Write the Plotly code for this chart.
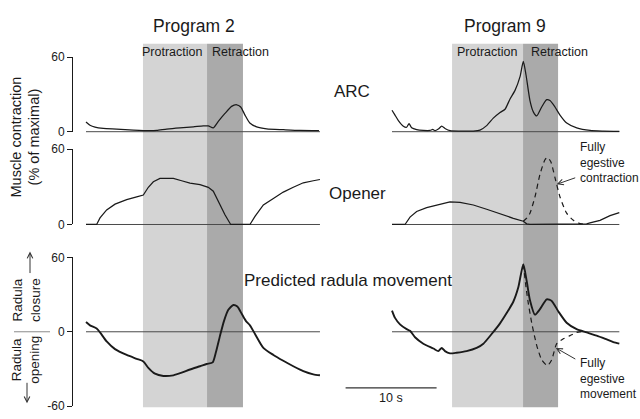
import plotly.graph_objects as go

# ---------------- data (time in s, contraction / movement in % of maximal) ----------------
# Program 2
p2_arc_t = [0, 0.44, 0.99, 1.9, 3.37, 5.2, 7.03, 7.77, 8.87, 10.33, 11.8, 12.89, 13.44, 13.99,
            14.54, 15.27, 16.0, 16.56, 17.0, 17.47, 18.0, 18.75, 19.85, 21.7, 23.5, 25.6]
p2_arc = [7.8, 5.2, 3.6, 2.6, 2.1, 1.3, 0.8, 1.0, 2.1, 3.1, 3.9, 4.7, 4.7, 3.1,
          8.3, 14.7, 20.4, 21.7, 19.9, 13.4, 7.0, 3.9, 2.3, 1.6, 1.0, 0.8]

p2_opener_t = [0, 1.17, 1.54, 2.27, 3.19, 4.47, 5.57, 6.3, 6.85, 7.4, 8.13, 9.6, 10.51, 11.43,
               12.53, 13.44, 13.99, 14.54, 15.27, 15.9, 18.02, 18.57, 19.49, 20.59, 21.68,
               22.78, 23.88, 24.98, 25.71]
p2_opener = [0, 0, 5.2, 11.6, 16.2, 19.8, 21.9, 23.4, 29.6, 34.0, 36.6, 36.6, 34.8, 33.0,
             31.7, 29.6, 26.5, 18.0, 7.7, 0, 0, 6.4, 15.5, 20.6, 25.8,
             29.6, 33.2, 34.8, 35.8]

p2_radula_t = [0, 0.44, 1.17, 1.54, 2.27, 3.19, 4.47, 5.57, 6.3, 6.85, 7.58, 8.5, 9.6, 10.51,
               11.43, 12.53, 13.26, 13.92, 14.29, 14.73, 15.16, 15.64, 16.19, 16.63, 17.11,
               17.58, 18.02, 18.57, 19.49, 20.59, 21.68, 22.78, 23.88, 24.98, 25.71]
p2_radula = [7.8, 5.2, 2.6, -0.5, -7.8, -14.0, -18.7, -21.8, -23.9, -29.1, -33.8, -35.6, -35.1, -33.0,
             -30.4, -27.8, -26.0, -24.7, -16.1, -3.1, 8.6, 17.7, 21.6, 20.3, 14.5,
             8.6, 5.2, -1.8, -13.0, -18.7, -23.4, -27.8, -31.7, -34.3, -35.1]

p2_protraction = [6.26, 13.3]
p2_retraction = [13.3, 17.25]
p2_end = 25.71

# Program 9
p9_arc_t = [0, 0.33, 0.70, 1.25, 1.61, 1.87, 2.16, 2.71, 3.44, 4.18, 4.47, 4.73, 5.09, 5.46,
            5.82, 6.37, 7.47, 8.94, 9.67, 10.4, 11.13, 11.87, 12.42, 12.97, 13.52, 14.07, 14.43,
            14.73, 15.16, 15.53, 15.9, 16.45, 17.0, 17.36, 17.91, 18.46, 19.2, 20.3, 21.76,
            23.22, 24.98]
p9_arc = [17.3, 13.4, 9.0, 4.4, 3.6, 6.5, 3.1, 1.6, 1.0, 1.0, 1.8, 0.8, 2.1, 4.4,
          2.6, 0.8, 0.5, 0.5, 1.3, 4.9, 10.9, 15.5, 18.1, 26.4, 33.3, 44.4, 56.6,
          45.7, 25.1, 16.0, 12.7, 19.9, 25.8, 25.1, 19.9, 13.4, 7.0, 3.1, 1.0,
          0.5, 0.3]

p9_opener_t = [0, 1.43, 1.98, 2.71, 3.81, 5.27, 6.37, 7.47, 8.94, 10.4, 11.87, 13.33, 14.43,
               14.8, 15.16, 20.66, 21.39, 21.76, 22.86, 23.96, 24.98]
p9_opener = [0, 0, 5.9, 10.3, 13.4, 16.2, 18.0, 17.5, 15.5, 12.1, 8.2, 4.9, 2.6,
             0.5, 0, 0, 0.5, 1.3, 3.3, 7.0, 9.5]
p9_opener_egest_t = [14.43, 14.8, 15.16, 15.71, 16.26, 16.81, 17.07, 17.44, 17.91, 18.46,
                     19.19, 19.93, 20.66, 21.39]
p9_opener_egest = [2.6, 5.0, 9.0, 21.9, 39.9, 51.5, 53.3, 50.2, 37.3, 21.9,
                   9.0, 3.3, 0.8, 0.5]

p9_radula_t = [0, 0.33, 0.88, 1.61, 1.98, 2.53, 3.44, 4.55, 5.09, 5.46, 5.82, 6.37, 7.1, 8.2,
               9.3, 10.04, 10.95, 11.87, 12.6, 13.33, 13.88, 14.43, 14.8, 15.16, 15.71, 16.26,
               17.0, 17.55, 18.28, 19.19, 20.29, 21.39, 22.49, 23.59, 24.32, 24.98]
p9_radula = [17.1, 11.2, 6.0, 2.1, 0.8, -4.4, -9.6, -13.5, -15.6, -13.0, -15.6, -17.4, -16.9, -15.6,
             -13.0, -9.6, -1.8, 6.8, 15.1, 24.2, 35.8, 54.5, 41.0, 25.5, 13.8, 18.2,
             26.2, 24.9, 16.4, 7.3, 2.1, -0.5, -3.1, -6.2, -8.3, -9.6]
p9_radula_egest_t = [14.43, 14.73, 14.98, 15.35, 15.9, 16.45, 17.07, 17.55, 18.1, 18.83,
                     19.56, 20.29, 21.03]
p9_radula_egest = [54.5, 35.8, 22.9, 7.3, -10.9, -22.6, -27.3, -22.6, -9.6, -5.7,
                   -3.1, -0.5, 0.3]

p9_protraction = [6.6, 14.4]
p9_retraction = [14.4, 18.25]
p9_end = 24.98

scale_bar_start = -5.1
scale_bar_len = 10

muscle_ticks = [0, 60]
radula_ticks = [-60, 0, 60]
radula_ticktext = ["-60", "0", "60"]

# ---------------- layout geometry (pixels) ----------------
W, H = 640, 419
PX_PER_S = 9.1
LEFT_T0_PX, RIGHT_T0_PX = 86, 392
AXIS_PX = 73
FONT = "Liberation Sans, Arial, sans-serif"
INK = "#1a1a1a"


def px_x(p):
    return p / W


def px_y(p):
    return 1 - p / H


def row_domain(p_zero, p_sixty, lo, hi):
    k = (p_zero - p_sixty) / 60.0
    return [px_y(p_zero - lo * k), px_y(p_zero - hi * k)]


# rows: (pixel of 0, pixel of 60)
ROWS = {"arc": (129, 52), "opener": (225, 147), "radula": (336, 259)}
DATA_RANGES = {"arc": [-5, 62], "opener": [-5, 62], "radula": [-62, 62]}
TICK_RANGES = {"arc": [0, 60], "opener": [0, 60], "radula": [-60, 60]}

fig = go.Figure()


def line(t, v, xa, ya, width=1.25, dash="solid", shape="spline"):
    fig.add_trace(go.Scatter(
        x=t, y=v, xaxis=xa, yaxis=ya, mode="lines",
        line=dict(color=INK, width=width, dash=dash, shape=shape,
                  smoothing=0.6 if shape == "spline" else None),
        hoverinfo="skip", showlegend=False))


def baseline(end, xa, ya):
    fig.add_trace(go.Scatter(
        x=[0, end], y=[0, 0], xaxis=xa, yaxis=ya, mode="lines",
        line=dict(color="#4a4a4a", width=1), hoverinfo="skip", showlegend=False))


# baselines first so curves sit on top
baseline(p2_end, "x", "y")
baseline(p2_end, "x", "y2")
baseline(p2_end, "x", "y3")
baseline(p9_end, "x2", "y4")
baseline(p9_end, "x2", "y5")
baseline(p9_end, "x2", "y6")

# Program 2
line(p2_arc_t, p2_arc, "x", "y")
line(p2_opener_t, p2_opener, "x", "y2", shape="linear")
line(p2_radula_t, p2_radula, "x", "y3", width=1.9)

# Program 9
line(p9_arc_t, p9_arc, "x2", "y4")
line(p9_opener_t, p9_opener, "x2", "y5", shape="linear")
line(p9_opener_egest_t, p9_opener_egest, "x2", "y5", width=1.2, dash="5px,4px")
line(p9_radula_t, p9_radula, "x2", "y6", width=1.9)
line(p9_radula_egest_t, p9_radula_egest, "x2", "y6", width=1.2, dash="5px,4px")

# empty traces that carry the left tick axes
for ya in ["y7", "y8", "y9"]:
    fig.add_trace(go.Scatter(x=[], y=[], xaxis="x3", yaxis=ya, showlegend=False))

hidden = dict(visible=False, showgrid=False, zeroline=False, fixedrange=True)

layout = dict(
    width=W, height=H, autosize=False,
    margin=dict(l=0, r=0, t=0, b=0),
    paper_bgcolor="white", plot_bgcolor="rgba(0,0,0,0)",
    font=dict(family=FONT, color=INK),
    showlegend=False,
    xaxis=dict(domain=[px_x(AXIS_PX), px_x(325)],
               range=[(AXIS_PX - LEFT_T0_PX) / PX_PER_S, (325 - LEFT_T0_PX) / PX_PER_S], **hidden),
    xaxis2=dict(domain=[px_x(335), px_x(632)],
                range=[(335 - RIGHT_T0_PX) / PX_PER_S, (632 - RIGHT_T0_PX) / PX_PER_S], **hidden),
    xaxis3=dict(domain=[px_x(AXIS_PX), 0.5], range=[0, 1], **hidden),
)

for i, key in enumerate(["arc", "opener", "radula"]):
    p0, p60 = ROWS[key]
    lo, hi = DATA_RANGES[key]
    dom = row_domain(p0, p60, lo, hi)
    layout[f"yaxis{i + 1}"] = dict(domain=dom, range=[lo, hi], anchor="x", **hidden)
    layout[f"yaxis{i + 4}"] = dict(domain=dom, range=[lo, hi], anchor="x2", **hidden)
    tlo, thi = TICK_RANGES[key]
    tvals = radula_ticks if key == "radula" else muscle_ticks
    ttext = radula_ticktext if key == "radula" else [str(v) for v in muscle_ticks]
    layout[f"yaxis{i + 7}"] = dict(
        domain=row_domain(p0, p60, tlo, thi), range=[tlo, thi], anchor="x3",
        showline=True, linecolor=INK, linewidth=1,
        ticks="outside", ticklen=5, tickwidth=1, tickcolor=INK,
        tickvals=tvals, ticktext=ttext, tickfont=dict(size=12, family=FONT, color=INK),
        showgrid=False, zeroline=False, fixedrange=True)

fig.update_layout(**layout)

# phase bands spanning all three rows
band_y0, band_y1 = px_y(414), px_y(38)
for xa, prot, retr in [("x", p2_protraction, p2_retraction), ("x2", p9_protraction, p9_retraction)]:
    fig.add_shape(type="rect", xref=xa, yref="paper", x0=prot[0], x1=prot[1],
                  y0=band_y0, y1=band_y1, fillcolor="#d4d4d4", line=dict(width=0), layer="below")
    fig.add_shape(type="rect", xref=xa, yref="paper", x0=retr[0], x1=retr[1],
                  y0=band_y0, y1=band_y1, fillcolor="#aaaaaa", line=dict(width=0), layer="below")

# 10 s scale bar
fig.add_shape(type="line", xref="x2", yref="paper",
              x0=scale_bar_start, x1=scale_bar_start + scale_bar_len,
              y0=px_y(394), y1=px_y(394), line=dict(color="#333333", width=1.2))

# radula closure / opening divider
fig.add_shape(type="line", xref="paper", yref="paper", x0=px_x(14), x1=px_x(50),
              y0=px_y(336), y1=px_y(336), line=dict(color="#8a8a8a", width=1))


def text(x, y, s, size, **kw):
    fig.add_annotation(x=x, y=y, xref=kw.pop("xref", "paper"), yref=kw.pop("yref", "paper"),
                       text=s, showarrow=False, font=dict(size=size, family=FONT, color=INK),
                       xanchor=kw.pop("xanchor", "center"), yanchor=kw.pop("yanchor", "middle"),
                       **kw)


text(px_x(194), px_y(20), "Program 2", 17.5)
text(px_x(505), px_y(20), "Program 9", 17.5)

# phase labels centred over their bands (Retraction text runs past the band)
text(px_x(172), px_y(47), "Protraction", 12.5)
text(px_x(240), px_y(47), "Retraction", 12.5)
text(px_x(487), px_y(47), "Protraction", 12.5)
text(px_x(559), px_y(47), "Retraction", 12.5)

text(px_x(352), px_y(87), "ARC", 17)
text(px_x(357), px_y(193), "Opener", 17)
text(px_x(348), px_y(283), "Predicted radula movement", 17)

text(px_x(25), px_y(135), "Muscle contraction<br>(% of maximal)", 14.5, textangle=-90)
text(px_x(27), px_y(303), "Radula<br>closure", 13.5, textangle=-90)
text(px_x(26), px_y(365), "Radula<br>opening", 13.5, textangle=-90)

text(scale_bar_start + scale_bar_len / 2, px_y(404), "10 s", 12.5, xref="x2")

text(px_x(578), px_y(161), "Fully<br>egestive<br>contraction", 12, xanchor="left", align="left")
text(px_x(578), px_y(384), "Fully<br>egestive<br>movement", 12, xanchor="left", align="left")

# arrows
arrow = dict(text="", showarrow=True, arrowhead=5, arrowsize=1.1, arrowwidth=1, arrowcolor="#333333")
fig.add_annotation(x=px_x(30), y=px_y(253), xref="paper", yref="paper", ax=0, ay=23, **arrow)
fig.add_annotation(x=px_x(27), y=px_y(410), xref="paper", yref="paper", ax=0, ay=-22, **arrow)
fig.add_annotation(x=18.1, y=32, xref="x2", yref="y5", ax=20, ay=-7, **arrow)
fig.add_annotation(x=18.0, y=-13, xref="x2", yref="y6", ax=21, ay=12, **arrow)

fig.write_html("out.html")
